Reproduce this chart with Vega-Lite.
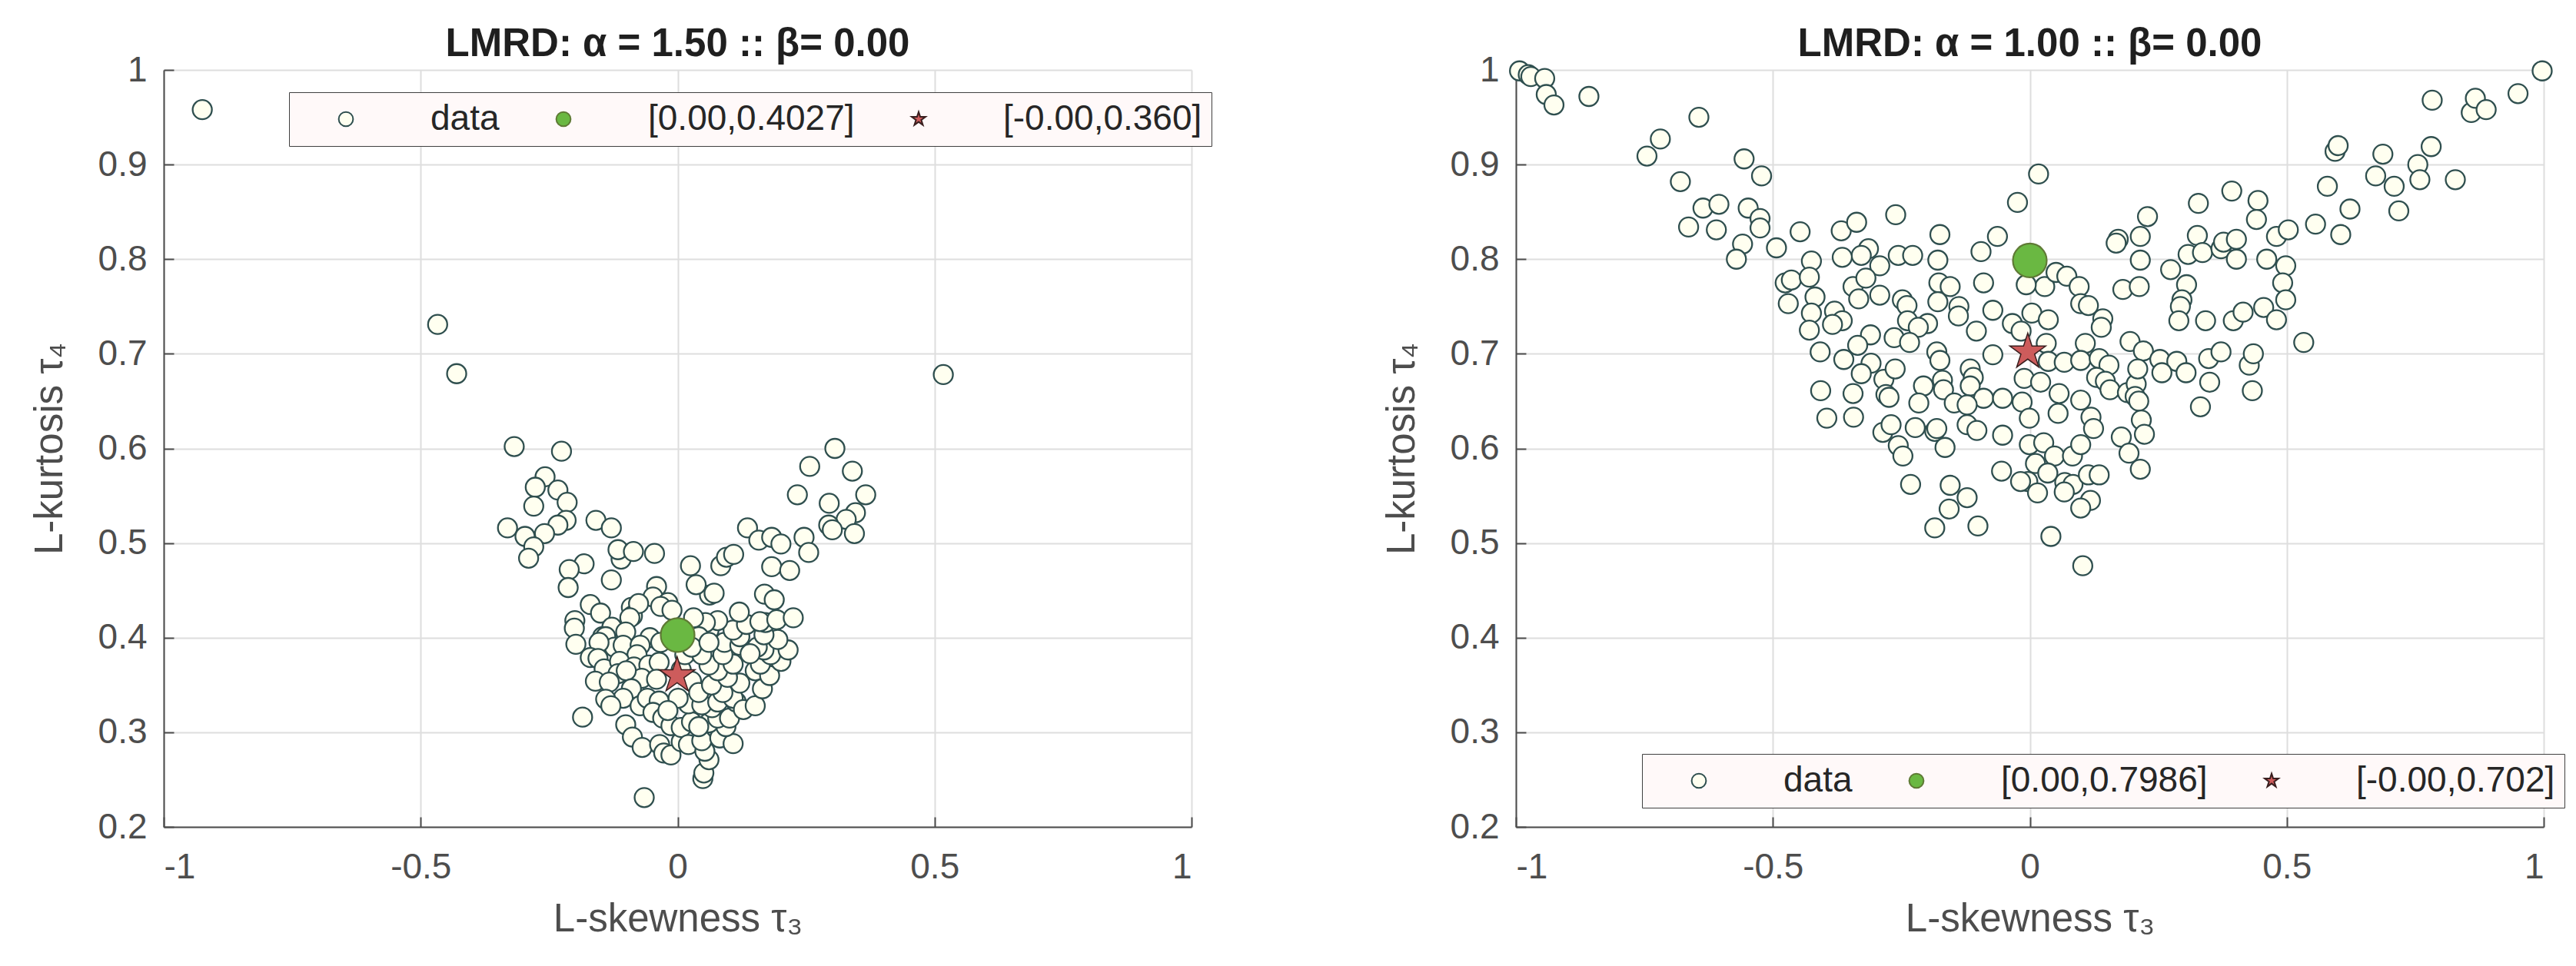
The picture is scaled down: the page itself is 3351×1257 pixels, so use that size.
{
 "$schema": "https://vega.github.io/schema/vega-lite/v6.json",
 "background": "white",
 "padding": {"left": 39, "top": 32, "right": 10, "bottom": 10},
 "spacing": 422,
 "bounds": "flush",
 "config": {
  "view": {"stroke": null},
  "font": "Liberation Sans",
  "axis": {
   "domainColor": "#4d4d4d", "domainWidth": 2,
   "tickColor": "#4d4d4d", "tickWidth": 2, "tickSize": -13,
   "gridColor": "#dedede", "gridWidth": 2,
   "labelFont": "Liberation Sans", "labelFontSize": 46, "labelColor": "#4d4d4d",
   "titleFont": "Liberation Sans", "titleFontSize": 51, "titleColor": "#4d4d4d", "titleFontWeight": "normal"
  },
  "axisX": {"labelPadding": 43, "titlePadding": 20},
  "axisY": {"labelPadding": 35, "titlePadding": 36}
 },
 "datasets": {
  "A": [
   {"x":-0.925,"y":0.958,"s":"data"},{"x":-0.467,"y":0.731,"s":"data"},{"x":-0.43,"y":0.679,"s":"data"},{"x":0.517,"y":0.678,"s":"data"},
   {"x":-0.318,"y":0.602,"s":"data"},{"x":-0.226,"y":0.597,"s":"data"},{"x":-0.258,"y":0.57,"s":"data"},{"x":-0.277,"y":0.559,"s":"data"},
   {"x":-0.233,"y":0.556,"s":"data"},{"x":-0.215,"y":0.543,"s":"data"},{"x":-0.28,"y":0.539,"s":"data"},{"x":-0.217,"y":0.524,"s":"data"},
   {"x":-0.233,"y":0.519,"s":"data"},{"x":-0.331,"y":0.516,"s":"data"},{"x":-0.297,"y":0.507,"s":"data"},{"x":-0.259,"y":0.51,"s":"data"},
   {"x":-0.28,"y":0.496,"s":"data"},{"x":-0.29,"y":0.484,"s":"data"},{"x":-0.159,"y":0.524,"s":"data"},{"x":-0.129,"y":0.516,"s":"data"},
   {"x":-0.106,"y":0.489,"s":"data"},{"x":-0.11,"y":0.483,"s":"data"},{"x":-0.116,"y":0.493,"s":"data"},{"x":-0.086,"y":0.491,"s":"data"},
   {"x":-0.045,"y":0.489,"s":"data"},{"x":-0.182,"y":0.478,"s":"data"},{"x":-0.211,"y":0.472,"s":"data"},{"x":-0.213,"y":0.453,"s":"data"},
   {"x":-0.129,"y":0.461,"s":"data"},{"x":-0.041,"y":0.454,"s":"data"},{"x":-0.048,"y":0.443,"s":"data"},{"x":-0.019,"y":0.437,"s":"data"},
   {"x":-0.033,"y":0.433,"s":"data"},{"x":-0.011,"y":0.429,"s":"data"},{"x":-0.17,"y":0.435,"s":"data"},{"x":-0.15,"y":0.426,"s":"data"},
   {"x":-0.09,"y":0.432,"s":"data"},{"x":-0.088,"y":0.423,"s":"data"},{"x":-0.076,"y":0.436,"s":"data"},{"x":-0.093,"y":0.421,"s":"data"},
   {"x":-0.2,"y":0.418,"s":"data"},{"x":-0.201,"y":0.41,"s":"data"},{"x":-0.128,"y":0.411,"s":"data"},{"x":-0.101,"y":0.406,"s":"data"},
   {"x":-0.054,"y":0.4,"s":"data"},{"x":-0.146,"y":0.401,"s":"data"},{"x":-0.198,"y":0.393,"s":"data"},{"x":-0.14,"y":0.401,"s":"data"},
   {"x":-0.123,"y":0.39,"s":"data"},{"x":-0.153,"y":0.395,"s":"data"},{"x":-0.106,"y":0.392,"s":"data"},{"x":-0.073,"y":0.392,"s":"data"},
   {"x":-0.033,"y":0.395,"s":"data"},{"x":-0.17,"y":0.379,"s":"data"},{"x":-0.155,"y":0.378,"s":"data"},{"x":-0.079,"y":0.382,"s":"data"},
   {"x":-0.143,"y":0.367,"s":"data"},{"x":-0.113,"y":0.375,"s":"data"},{"x":-0.116,"y":0.362,"s":"data"},{"x":-0.085,"y":0.369,"s":"data"},
   {"x":-0.056,"y":0.371,"s":"data"},{"x":-0.036,"y":0.374,"s":"data"},{"x":-0.07,"y":0.357,"s":"data"},{"x":-0.1,"y":0.365,"s":"data"},
   {"x":-0.16,"y":0.354,"s":"data"},{"x":-0.133,"y":0.353,"s":"data"},{"x":-0.09,"y":0.346,"s":"data"},{"x":-0.041,"y":0.356,"s":"data"},
   {"x":-0.106,"y":0.336,"s":"data"},{"x":-0.14,"y":0.335,"s":"data"},{"x":-0.13,"y":0.328,"s":"data"},{"x":-0.073,"y":0.328,"s":"data"},
   {"x":-0.059,"y":0.336,"s":"data"},{"x":-0.036,"y":0.333,"s":"data"},{"x":-0.048,"y":0.321,"s":"data"},{"x":-0.029,"y":0.315,"s":"data"},
   {"x":-0.013,"y":0.307,"s":"data"},{"x":-0.101,"y":0.308,"s":"data"},{"x":-0.088,"y":0.295,"s":"data"},{"x":-0.069,"y":0.284,"s":"data"},
   {"x":-0.035,"y":0.287,"s":"data"},{"x":-0.027,"y":0.278,"s":"data"},{"x":-0.013,"y":0.276,"s":"data"},{"x":0.007,"y":0.29,"s":"data"},
   {"x":0.007,"y":0.305,"s":"data"},{"x":0.021,"y":0.287,"s":"data"},{"x":0.027,"y":0.311,"s":"data"},{"x":0.021,"y":0.33,"s":"data"},
   {"x":0.001,"y":0.336,"s":"data"},{"x":-0.019,"y":0.323,"s":"data"},{"x":0.007,"y":0.366,"s":"data"},{"x":0.014,"y":0.382,"s":"data"},
   {"x":0.027,"y":0.354,"s":"data"},{"x":-0.185,"y":0.316,"s":"data"},{"x":-0.065,"y":0.231,"s":"data"},{"x":0.049,"y":0.251,"s":"data"},
   {"x":0.051,"y":0.257,"s":"data"},{"x":0.061,"y":0.271,"s":"data"},{"x":0.053,"y":0.28,"s":"data"},{"x":0.047,"y":0.291,"s":"data"},
   {"x":0.082,"y":0.294,"s":"data"},{"x":0.108,"y":0.288,"s":"data"},{"x":0.094,"y":0.306,"s":"data"},{"x":0.061,"y":0.31,"s":"data"},
   {"x":0.041,"y":0.306,"s":"data"},{"x":0.078,"y":0.315,"s":"data"},{"x":0.101,"y":0.315,"s":"data"},{"x":0.067,"y":0.326,"s":"data"},
   {"x":0.047,"y":0.329,"s":"data"},{"x":0.078,"y":0.332,"s":"data"},{"x":0.114,"y":0.332,"s":"data"},{"x":0.108,"y":0.336,"s":"data"},
   {"x":0.128,"y":0.324,"s":"data"},{"x":0.151,"y":0.328,"s":"data"},{"x":0.088,"y":0.342,"s":"data"},{"x":0.041,"y":0.342,"s":"data"},
   {"x":0.066,"y":0.35,"s":"data"},{"x":0.121,"y":0.352,"s":"data"},{"x":0.097,"y":0.358,"s":"data"},{"x":0.078,"y":0.365,"s":"data"},
   {"x":0.061,"y":0.371,"s":"data"},{"x":0.108,"y":0.372,"s":"data"},{"x":0.088,"y":0.382,"s":"data"},{"x":0.047,"y":0.382,"s":"data"},
   {"x":0.091,"y":0.395,"s":"data"},{"x":0.121,"y":0.392,"s":"data"},{"x":0.151,"y":0.365,"s":"data"},{"x":0.165,"y":0.346,"s":"data"},
   {"x":0.179,"y":0.36,"s":"data"},{"x":0.161,"y":0.372,"s":"data"},{"x":0.201,"y":0.375,"s":"data"},{"x":0.181,"y":0.382,"s":"data"},
   {"x":0.215,"y":0.387,"s":"data"},{"x":0.168,"y":0.387,"s":"data"},{"x":0.155,"y":0.39,"s":"data"},{"x":0.141,"y":0.383,"s":"data"},
   {"x":0.195,"y":0.398,"s":"data"},{"x":0.168,"y":0.403,"s":"data"},{"x":0.121,"y":0.401,"s":"data"},{"x":0.108,"y":0.408,"s":"data"},
   {"x":0.061,"y":0.408,"s":"data"},{"x":0.171,"y":0.416,"s":"data"},{"x":0.134,"y":0.414,"s":"data"},{"x":0.16,"y":0.417,"s":"data"},
   {"x":0.193,"y":0.419,"s":"data"},{"x":0.225,"y":0.421,"s":"data"},{"x":0.12,"y":0.427,"s":"data"},{"x":0.078,"y":0.418,"s":"data"},
   {"x":0.054,"y":0.416,"s":"data"},{"x":0.031,"y":0.421,"s":"data"},{"x":0.041,"y":0.401,"s":"data"},{"x":0.027,"y":0.39,"s":"data"},
   {"x":0.061,"y":0.395,"s":"data"},{"x":0.169,"y":0.446,"s":"data"},{"x":0.188,"y":0.44,"s":"data"},{"x":0.062,"y":0.445,"s":"data"},
   {"x":0.071,"y":0.447,"s":"data"},{"x":0.036,"y":0.456,"s":"data"},{"x":0.025,"y":0.476,"s":"data"},{"x":0.084,"y":0.476,"s":"data"},
   {"x":0.095,"y":0.485,"s":"data"},{"x":0.109,"y":0.488,"s":"data"},{"x":0.136,"y":0.516,"s":"data"},{"x":0.158,"y":0.503,"s":"data"},
   {"x":0.183,"y":0.506,"s":"data"},{"x":0.201,"y":0.499,"s":"data"},{"x":0.246,"y":0.506,"s":"data"},{"x":0.255,"y":0.49,"s":"data"},
   {"x":0.183,"y":0.475,"s":"data"},{"x":0.218,"y":0.471,"s":"data"},{"x":0.233,"y":0.551,"s":"data"},{"x":0.257,"y":0.581,"s":"data"},
   {"x":0.306,"y":0.6,"s":"data"},{"x":0.34,"y":0.576,"s":"data"},{"x":0.366,"y":0.551,"s":"data"},{"x":0.295,"y":0.542,"s":"data"},
   {"x":0.346,"y":0.532,"s":"data"},{"x":0.328,"y":0.525,"s":"data"},{"x":0.294,"y":0.519,"s":"data"},{"x":0.301,"y":0.514,"s":"data"},
   {"x":0.344,"y":0.51,"s":"data"},
   {"x":0.0,"y":0.4027,"s":"[0.00,0.4027]"},
   {"x":-0.001,"y":0.36,"s":"[-0.00,0.360]"}
  ],
  "B": [
   {"x":-0.993,"y":0.999,"s":"data"},{"x":-0.976,"y":0.995,"s":"data"},{"x":-0.971,"y":0.993,"s":"data"},{"x":-0.944,"y":0.991,"s":"data"},
   {"x":-0.941,"y":0.974,"s":"data"},{"x":-0.926,"y":0.963,"s":"data"},{"x":-0.858,"y":0.972,"s":"data"},
   {"x":-0.644,"y":0.95,"s":"data"},{"x":-0.719,"y":0.927,"s":"data"},{"x":-0.745,"y":0.909,"s":"data"},{"x":-0.556,"y":0.906,"s":"data"},
   {"x":-0.522,"y":0.888,"s":"data"},{"x":-0.68,"y":0.882,"s":"data"},{"x":-0.636,"y":0.854,"s":"data"},{"x":-0.605,"y":0.858,"s":"data"},
   {"x":-0.548,"y":0.854,"s":"data"},{"x":-0.525,"y":0.843,"s":"data"},{"x":-0.525,"y":0.833,"s":"data"},{"x":-0.664,"y":0.834,"s":"data"},
   {"x":-0.61,"y":0.831,"s":"data"},{"x":-0.559,"y":0.816,"s":"data"},{"x":-0.571,"y":0.8,"s":"data"},{"x":-0.493,"y":0.812,"s":"data"},
   {"x":-0.447,"y":0.829,"s":"data"},{"x":-0.425,"y":0.798,"s":"data"},{"x":-0.367,"y":0.83,"s":"data"},{"x":-0.337,"y":0.839,"s":"data"},
   {"x":-0.314,"y":0.811,"s":"data"},{"x":-0.328,"y":0.804,"s":"data"},{"x":-0.365,"y":0.802,"s":"data"},{"x":-0.292,"y":0.793,"s":"data"},
   {"x":-0.261,"y":0.847,"s":"data"},{"x":-0.256,"y":0.804,"s":"data"},{"x":-0.228,"y":0.804,"s":"data"},{"x":-0.179,"y":0.799,"s":"data"},
   {"x":-0.175,"y":0.826,"s":"data"},{"x":-0.095,"y":0.808,"s":"data"},{"x":-0.063,"y":0.824,"s":"data"},{"x":-0.024,"y":0.86,"s":"data"},
   {"x":0.017,"y":0.89,"s":"data"},
   {"x":-0.476,"y":0.775,"s":"data"},{"x":-0.464,"y":0.778,"s":"data"},{"x":-0.429,"y":0.781,"s":"data"},{"x":-0.47,"y":0.753,"s":"data"},
   {"x":-0.418,"y":0.76,"s":"data"},{"x":-0.425,"y":0.743,"s":"data"},{"x":-0.38,"y":0.745,"s":"data"},{"x":-0.365,"y":0.735,"s":"data"},
   {"x":-0.429,"y":0.725,"s":"data"},{"x":-0.384,"y":0.731,"s":"data"},{"x":-0.344,"y":0.771,"s":"data"},{"x":-0.319,"y":0.78,"s":"data"},
   {"x":-0.333,"y":0.758,"s":"data"},{"x":-0.292,"y":0.762,"s":"data"},{"x":-0.248,"y":0.757,"s":"data"},{"x":-0.239,"y":0.751,"s":"data"},
   {"x":-0.238,"y":0.735,"s":"data"},{"x":-0.199,"y":0.732,"s":"data"},{"x":-0.217,"y":0.728,"s":"data"},{"x":-0.31,"y":0.72,"s":"data"},
   {"x":-0.264,"y":0.717,"s":"data"},{"x":-0.234,"y":0.712,"s":"data"},{"x":-0.335,"y":0.709,"s":"data"},{"x":-0.408,"y":0.702,"s":"data"},
   {"x":-0.362,"y":0.694,"s":"data"},{"x":-0.309,"y":0.69,"s":"data"},{"x":-0.328,"y":0.679,"s":"data"},{"x":-0.284,"y":0.673,"s":"data"},
   {"x":-0.262,"y":0.684,"s":"data"},{"x":-0.28,"y":0.657,"s":"data"},{"x":-0.274,"y":0.654,"s":"data"},{"x":-0.407,"y":0.661,"s":"data"},
   {"x":-0.344,"y":0.658,"s":"data"},{"x":-0.395,"y":0.632,"s":"data"},{"x":-0.343,"y":0.633,"s":"data"},{"x":-0.286,"y":0.617,"s":"data"},
   {"x":-0.27,"y":0.625,"s":"data"},{"x":-0.256,"y":0.603,"s":"data"},{"x":-0.247,"y":0.592,"s":"data"},{"x":-0.223,"y":0.622,"s":"data"},
   {"x":-0.185,"y":0.618,"s":"data"},{"x":-0.165,"y":0.601,"s":"data"},{"x":-0.232,"y":0.562,"s":"data"},{"x":-0.155,"y":0.561,"s":"data"},
   {"x":-0.122,"y":0.548,"s":"data"},{"x":-0.157,"y":0.536,"s":"data"},{"x":-0.185,"y":0.516,"s":"data"},{"x":-0.101,"y":0.518,"s":"data"},
   {"x":0.041,"y":0.507,"s":"data"},{"x":0.103,"y":0.476,"s":"data"},
   {"x":-0.177,"y":0.775,"s":"data"},{"x":-0.155,"y":0.771,"s":"data"},{"x":-0.179,"y":0.755,"s":"data"},{"x":-0.138,"y":0.75,"s":"data"},
   {"x":-0.139,"y":0.74,"s":"data"},{"x":-0.09,"y":0.775,"s":"data"},{"x":-0.072,"y":0.746,"s":"data"},{"x":-0.104,"y":0.724,"s":"data"},
   {"x":-0.181,"y":0.702,"s":"data"},{"x":-0.175,"y":0.693,"s":"data"},{"x":-0.116,"y":0.684,"s":"data"},{"x":-0.072,"y":0.699,"s":"data"},
   {"x":-0.11,"y":0.675,"s":"data"},{"x":-0.116,"y":0.666,"s":"data"},{"x":-0.207,"y":0.666,"s":"data"},{"x":-0.17,"y":0.672,"s":"data"},
   {"x":-0.168,"y":0.662,"s":"data"},{"x":-0.09,"y":0.653,"s":"data"},{"x":-0.053,"y":0.653,"s":"data"},{"x":-0.147,"y":0.648,"s":"data"},
   {"x":-0.122,"y":0.646,"s":"data"},{"x":-0.216,"y":0.648,"s":"data"},{"x":-0.122,"y":0.625,"s":"data"},{"x":-0.103,"y":0.619,"s":"data"},
   {"x":-0.053,"y":0.614,"s":"data"},{"x":-0.181,"y":0.621,"s":"data"},{"x":-0.011,"y":0.674,"s":"data"},{"x":0.021,"y":0.67,"s":"data"},
   {"x":-0.015,"y":0.649,"s":"data"},{"x":-0.001,"y":0.632,"s":"data"},{"x":0.057,"y":0.658,"s":"data"},{"x":0.055,"y":0.637,"s":"data"},
   {"x":0.099,"y":0.651,"s":"data"},{"x":0.119,"y":0.633,"s":"data"},{"x":0.124,"y":0.621,"s":"data"},{"x":-0.001,"y":0.604,"s":"data"},
   {"x":0.027,"y":0.606,"s":"data"},{"x":0.048,"y":0.592,"s":"data"},{"x":0.083,"y":0.592,"s":"data"},{"x":0.099,"y":0.604,"s":"data"},
   {"x":0.011,"y":0.584,"s":"data"},{"x":-0.004,"y":0.565,"s":"data"},{"x":0.015,"y":0.553,"s":"data"},{"x":0.035,"y":0.574,"s":"data"},
   {"x":0.068,"y":0.564,"s":"data"},{"x":0.084,"y":0.562,"s":"data"},{"x":0.114,"y":0.572,"s":"data"},{"x":0.135,"y":0.572,"s":"data"},
   {"x":0.067,"y":0.554,"s":"data"},{"x":0.118,"y":0.545,"s":"data"},{"x":0.099,"y":0.537,"s":"data"},{"x":-0.055,"y":0.576,"s":"data"},
   {"x":-0.018,"y":0.565,"s":"data"},
   {"x":-0.034,"y":0.732,"s":"data"},{"x":-0.017,"y":0.724,"s":"data"},{"x":0.004,"y":0.743,"s":"data"},{"x":0.036,"y":0.736,"s":"data"},
   {"x":0.029,"y":0.771,"s":"data"},{"x":0.051,"y":0.786,"s":"data"},{"x":0.072,"y":0.782,"s":"data"},{"x":0.096,"y":0.771,"s":"data"},
   {"x":0.099,"y":0.753,"s":"data"},{"x":0.114,"y":0.751,"s":"data"},{"x":0.142,"y":0.737,"s":"data"},{"x":0.139,"y":0.728,"s":"data"},
   {"x":-0.007,"y":0.773,"s":"data"},{"x":0.032,"y":0.711,"s":"data"},{"x":0.108,"y":0.711,"s":"data"},{"x":0.036,"y":0.692,"s":"data"},
   {"x":0.067,"y":0.691,"s":"data"},{"x":0.099,"y":0.693,"s":"data"},{"x":0.135,"y":0.695,"s":"data"},{"x":0.154,"y":0.688,"s":"data"},
   {"x":0.13,"y":0.675,"s":"data"},{"x":0.147,"y":0.671,"s":"data"},{"x":0.156,"y":0.662,"s":"data"},{"x":0.19,"y":0.659,"s":"data"},
   {"x":0.207,"y":0.668,"s":"data"},{"x":0.205,"y":0.655,"s":"data"},{"x":0.212,"y":0.65,"s":"data"},{"x":0.178,"y":0.612,"s":"data"},
   {"x":0.193,"y":0.595,"s":"data"},{"x":0.215,"y":0.578,"s":"data"},{"x":0.217,"y":0.63,"s":"data"},{"x":0.223,"y":0.615,"s":"data"},
   {"x":0.195,"y":0.713,"s":"data"},{"x":0.221,"y":0.703,"s":"data"},{"x":0.21,"y":0.684,"s":"data"},{"x":0.253,"y":0.694,"s":"data"},
   {"x":0.286,"y":0.692,"s":"data"},{"x":0.304,"y":0.68,"s":"data"},{"x":0.257,"y":0.68,"s":"data"},{"x":0.35,"y":0.67,"s":"data"},
   {"x":0.332,"y":0.644,"s":"data"},{"x":0.348,"y":0.695,"s":"data"},{"x":0.372,"y":0.702,"s":"data"},{"x":0.427,"y":0.688,"s":"data"},
   {"x":0.433,"y":0.661,"s":"data"},{"x":0.435,"y":0.7,"s":"data"},{"x":0.533,"y":0.712,"s":"data"},{"x":0.181,"y":0.768,"s":"data"},
   {"x":0.213,"y":0.771,"s":"data"},{"x":0.172,"y":0.821,"s":"data"},{"x":0.168,"y":0.817,"s":"data"},{"x":0.215,"y":0.824,"s":"data"},
   {"x":0.215,"y":0.799,"s":"data"},{"x":0.229,"y":0.845,"s":"data"},{"x":0.274,"y":0.789,"s":"data"},{"x":0.305,"y":0.773,"s":"data"},
   {"x":0.296,"y":0.757,"s":"data"},{"x":0.293,"y":0.75,"s":"data"},{"x":0.29,"y":0.735,"s":"data"},{"x":0.342,"y":0.735,"s":"data"},
   {"x":0.396,"y":0.735,"s":"data"},{"x":0.415,"y":0.744,"s":"data"},{"x":0.308,"y":0.805,"s":"data"},{"x":0.326,"y":0.825,"s":"data"},
   {"x":0.336,"y":0.807,"s":"data"},{"x":0.372,"y":0.811,"s":"data"},{"x":0.377,"y":0.818,"s":"data"},{"x":0.402,"y":0.821,"s":"data"},
   {"x":0.402,"y":0.8,"s":"data"},{"x":0.328,"y":0.859,"s":"data"},{"x":0.393,"y":0.872,"s":"data"},{"x":0.444,"y":0.862,"s":"data"},
   {"x":0.441,"y":0.842,"s":"data"},{"x":0.48,"y":0.824,"s":"data"},{"x":0.503,"y":0.831,"s":"data"},{"x":0.461,"y":0.8,"s":"data"},
   {"x":0.498,"y":0.793,"s":"data"},{"x":0.492,"y":0.775,"s":"data"},{"x":0.498,"y":0.757,"s":"data"},{"x":0.455,"y":0.749,"s":"data"},
   {"x":0.48,"y":0.736,"s":"data"},{"x":0.556,"y":0.837,"s":"data"},{"x":0.605,"y":0.826,"s":"data"},{"x":0.579,"y":0.877,"s":"data"},
   {"x":0.623,"y":0.853,"s":"data"},{"x":0.594,"y":0.914,"s":"data"},{"x":0.6,"y":0.92,"s":"data"},{"x":0.673,"y":0.888,"s":"data"},
   {"x":0.687,"y":0.911,"s":"data"},{"x":0.709,"y":0.877,"s":"data"},{"x":0.718,"y":0.851,"s":"data"},{"x":0.755,"y":0.9,"s":"data"},
   {"x":0.759,"y":0.884,"s":"data"},{"x":0.781,"y":0.919,"s":"data"},{"x":0.828,"y":0.884,"s":"data"},{"x":0.783,"y":0.968,"s":"data"},
   {"x":0.859,"y":0.955,"s":"data"},{"x":0.867,"y":0.97,"s":"data"},{"x":0.888,"y":0.958,"s":"data"},{"x":0.95,"y":0.975,"s":"data"},
   {"x":0.997,"y":0.999,"s":"data"},
   {"x":0.0,"y":0.7986,"s":"[0.00,0.7986]"},
   {"x":-0.004,"y":0.702,"s":"[-0.00,0.702]"}
  ]
 },
 "hconcat": [
  {
   "width": 1337, "height": 985,
   "title": {"text": "LMRD: α = 1.50 :: β= 0.00", "fontSize": 51, "fontWeight": "bold", "color": "#1f1f1f", "frame": "group", "offset": -16, "font": "Liberation Sans"},
   "data": {"name": "A"},
   "encoding": {
    "x": {"field": "x", "type": "quantitative", "scale": {"domain": [-1, 1], "nice": false, "zero": false},
          "axis": {"values": [-1, -0.5, 0, 0.5, 1], "title": "L-skewness τ₃", "labelExpr": "'' + datum.value"}},
    "y": {"field": "y", "type": "quantitative", "scale": {"domain": [0.2, 1], "nice": false, "zero": false},
          "axis": {"values": [0.2, 0.3, 0.4, 0.5, 0.6, 0.7, 0.8, 0.9, 1], "title": "L-kurtosis τ₄", "labelExpr": "'' + datum.value"}},
    "fill": {"field": "s", "type": "nominal",
             "scale": {"domain": ["data", "[0.00,0.4027]", "[-0.00,0.360]"], "range": ["#fffff0", "#6ab842", "#cd5c5c"]},
             "legend": {"title": null, "orient": "none", "legendX": 163, "legendY": 29, "direction": "horizontal",
                        "fillColor": "#fff9f9", "strokeColor": "#404040", "padding": 12,
                        "labelFont": "Liberation Sans", "labelFontSize": 46, "labelColor": "#262626", "labelLimit": 1000,
                        "symbolSize": 350, "symbolStrokeWidth": 2, "symbolOffset": 39, "labelOffset": 87, "columnPadding": 21}},
    "stroke": {"field": "s", "type": "nominal",
               "scale": {"domain": ["data", "[0.00,0.4027]", "[-0.00,0.360]"], "range": ["#2f4f4f", "#5f7a35", "#3a1f1f"]}},
    "shape": {"field": "s", "type": "nominal",
              "scale": {"domain": ["data", "[0.00,0.4027]", "[-0.00,0.360]"], "range": ["circle", "circle", "M0,-1L0.2245,-0.309L0.951,-0.309L0.363,0.118L0.588,0.809L0,0.382L-0.588,0.809L-0.363,0.118L-0.951,-0.309L-0.2245,-0.309Z"]}}
   },
   "layer": [
    {"transform": [{"filter": "datum.s == 'data'"}], "mark": {"type": "point", "filled": true, "opacity": 1, "size": 625, "strokeWidth": 2.3}},
    {"transform": [{"filter": "datum.s == '[0.00,0.4027]'"}], "mark": {"type": "point", "filled": true, "opacity": 1, "size": 1936, "strokeWidth": 2.2}},
    {"transform": [{"filter": "datum.s == '[-0.00,0.360]'"}], "mark": {"type": "point", "filled": true, "opacity": 1, "size": 2400, "strokeWidth": 1.5}}
   ]
  },
  {
   "width": 1337, "height": 985,
   "title": {"text": "LMRD: α = 1.00 :: β= 0.00", "fontSize": 51, "fontWeight": "bold", "color": "#1f1f1f", "frame": "group", "offset": -16, "font": "Liberation Sans"},
   "data": {"name": "B"},
   "encoding": {
    "x": {"field": "x", "type": "quantitative", "scale": {"domain": [-1, 1], "nice": false, "zero": false},
          "axis": {"values": [-1, -0.5, 0, 0.5, 1], "title": "L-skewness τ₃", "labelExpr": "'' + datum.value"}},
    "y": {"field": "y", "type": "quantitative", "scale": {"domain": [0.2, 1], "nice": false, "zero": false},
          "axis": {"values": [0.2, 0.3, 0.4, 0.5, 0.6, 0.7, 0.8, 0.9, 1], "title": "L-kurtosis τ₄", "labelExpr": "'' + datum.value"}},
    "fill": {"field": "s", "type": "nominal",
             "scale": {"domain": ["data", "[0.00,0.7986]", "[-0.00,0.702]"], "range": ["#fffff0", "#6ab842", "#cd5c5c"]},
             "legend": {"title": null, "orient": "none", "legendX": 164, "legendY": 890, "direction": "horizontal",
                        "fillColor": "#fff9f9", "strokeColor": "#404040", "padding": 12,
                        "labelFont": "Liberation Sans", "labelFontSize": 46, "labelColor": "#262626", "labelLimit": 1000,
                        "symbolSize": 350, "symbolStrokeWidth": 2, "symbolOffset": 39, "labelOffset": 87, "columnPadding": 21}},
    "stroke": {"field": "s", "type": "nominal",
               "scale": {"domain": ["data", "[0.00,0.7986]", "[-0.00,0.702]"], "range": ["#2f4f4f", "#5f7a35", "#3a1f1f"]}},
    "shape": {"field": "s", "type": "nominal",
              "scale": {"domain": ["data", "[0.00,0.7986]", "[-0.00,0.702]"], "range": ["circle", "circle", "M0,-1L0.2245,-0.309L0.951,-0.309L0.363,0.118L0.588,0.809L0,0.382L-0.588,0.809L-0.363,0.118L-0.951,-0.309L-0.2245,-0.309Z"]}}
   },
   "layer": [
    {"transform": [{"filter": "datum.s == 'data'"}], "mark": {"type": "point", "filled": true, "opacity": 1, "size": 625, "strokeWidth": 2.3}},
    {"transform": [{"filter": "datum.s == '[0.00,0.7986]'"}], "mark": {"type": "point", "filled": true, "opacity": 1, "size": 1936, "strokeWidth": 2.2}},
    {"transform": [{"filter": "datum.s == '[-0.00,0.702]'"}], "mark": {"type": "point", "filled": true, "opacity": 1, "size": 2400, "strokeWidth": 1.5}}
   ]
  }
 ],
 "resolve": {
  "scale": {"fill": "independent", "stroke": "independent", "shape": "independent"},
  "legend": {"fill": "independent", "stroke": "independent", "shape": "independent"}
 }
}
